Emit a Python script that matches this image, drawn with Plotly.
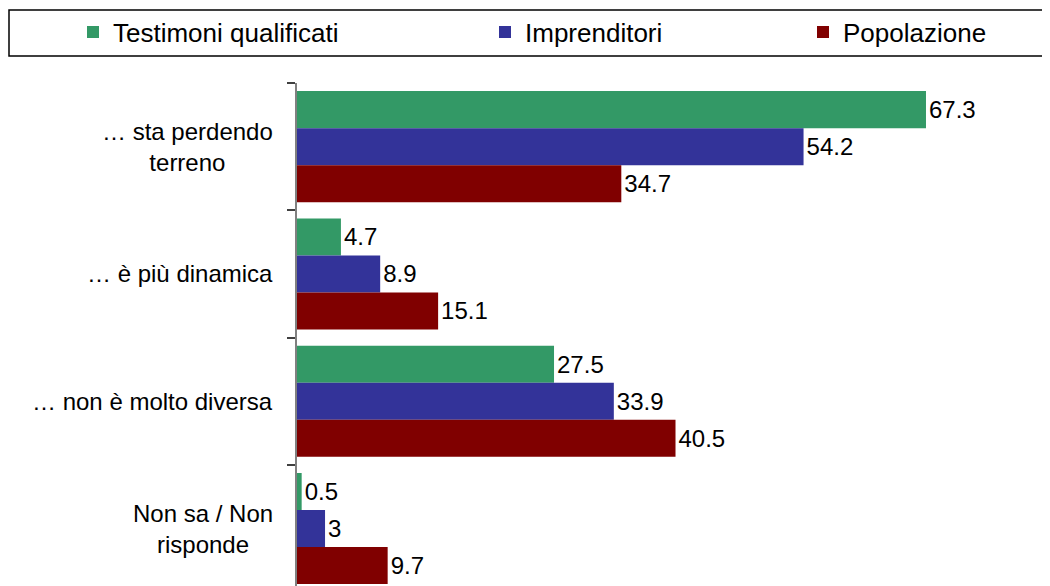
import plotly.graph_objects as go

categories = ["… sta perdendo<br>terreno", "… è più dinamica", "… non è molto diversa", "Non sa / Non<br>risponde"]
testimoni = [67.3, 4.7, 27.5, 0.5]
imprenditori = [54.2, 8.9, 33.9, 3]
popolazione = [34.7, 15.1, 40.5, 9.7]
series_names = ["Testimoni qualificati", "Imprenditori", "Popolazione"]
series_values = [testimoni, imprenditori, popolazione]
colors = ["#339966", "#333399", "#800000"]

FONT = "Liberation Sans, Arial, sans-serif"
OFF = 8  # page body margin
W, H = 1050, 586
ML, MR, MT, MB = 297 - OFF, 0, 83 - OFF, 0
PW, PH = W - ML - MR, H - MT - MB
PX_PER_UNIT = 9.346
band = 127.3

fig = go.Figure()
legend_ids = ["legend", "legend2", "legend3"]
for name, vals, col, lg in zip(series_names, series_values, colors, legend_ids):
    fig.add_trace(go.Bar(
        y=categories, x=vals, name=name, orientation="h",
        marker=dict(color=col, line=dict(width=0)),
        text=[f"{v:g}" for v in vals], textposition="outside",
        textfont=dict(family=FONT, size=24, color="black"),
        constraintext="none", cliponaxis=False, legend=lg,
    ))

legend_x = [65, 477, 795]
legends = {}
for lg, lx in zip(legend_ids, legend_x):
    legends[lg] = dict(
        orientation="h", xref="container", yref="container",
        x=lx / W, y=1 - 24 / H, xanchor="left", yanchor="middle",
        bgcolor="rgba(0,0,0,0)", borderwidth=0,
        font=dict(family=FONT, size=26, color="black"),
        itemwidth=30,
    )

annotations = []
for c in categories:
    annotations.append(dict(
        x=0, xref="paper", y=c, yref="y", text=c, showarrow=False,
        xanchor="right", yanchor="middle", xshift=-22, align="center",
        font=dict(family=FONT, size=24, color="black"),
    ))

y_bottom = -0.5 + PH / band

fig.update_layout(
    width=W, height=H, barmode="group", bargap=0.127, bargroupgap=0,
    margin=dict(l=ML, r=MR, t=MT, b=MB, pad=0),
    paper_bgcolor="white", plot_bgcolor="white",
    showlegend=True,
    annotations=annotations,
    shapes=[dict(
        type="rect", xref="paper", yref="paper",
        x0=(1 - ML) / PW, x1=(1080 - ML) / PW,
        y0=(H - (56 - OFF)) / PH, y1=(H - (10 - OFF)) / PH,
        line=dict(color="black", width=1.5), fillcolor="rgba(0,0,0,0)",
    )],
    xaxis=dict(range=[0, PW / PX_PER_UNIT], visible=False, showgrid=False, zeroline=False),
    yaxis=dict(
        type="category", categoryorder="array", categoryarray=categories,
        range=[y_bottom, -0.5],
        showticklabels=False, ticks="outside", tickson="boundaries", ticklen=8,
        tickcolor="#404040", tickwidth=1.5, showline=True, linecolor="#808080", linewidth=2,
        showgrid=False, zeroline=False,
    ),
    **legends,
)

fig.write_html("out.html")
